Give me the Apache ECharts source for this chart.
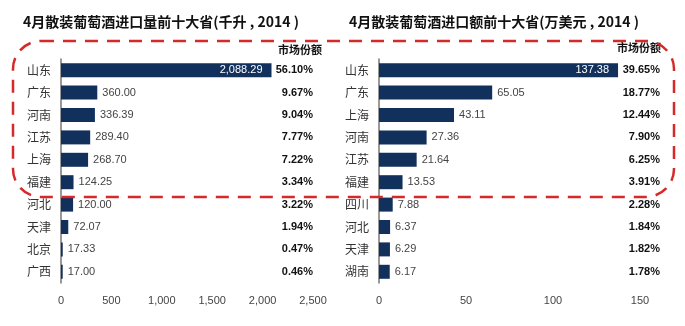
<!DOCTYPE html>
<html><head><meta charset="utf-8">
<script src="https://cdn.jsdelivr.net/npm/echarts@6/dist/echarts.min.js"></script>
<style>html,body{margin:0;padding:0;background:#fff}#c{width:685px;height:326px}</style>
</head><body><div id="c"></div>
<script>
const leftCats = ['山东','广东','河南','江苏','上海','福建','河北','天津','北京','广西'];
const leftVals = [2088.29,360.00,336.39,289.40,268.70,124.25,120.00,72.07,17.33,17.00];
const leftShares = ['56.10%','9.67%','9.04%','7.77%','7.22%','3.34%','3.22%','1.94%','0.47%','0.46%'];
const rightCats = ['山东','广东','上海','河南','江苏','福建','四川','河北','天津','湖南'];
const rightVals = [137.38,65.05,43.11,27.36,21.64,13.53,7.88,6.37,6.29,6.17];
const rightShares = ['39.65%','18.77%','12.44%','7.90%','6.25%','3.91%','2.28%','1.84%','1.82%','1.78%'];
const leftTitle = '4月散装葡萄酒进口量前十大省(千升 , 2014 )';
const rightTitle = '4月散装葡萄酒进口额前十大省(万美元 , 2014 )';
const shareHeader = '市场份额';

const font = "'Liberation Sans', 'Noto Sans CJK SC', sans-serif";
const barColor = '#11305c';
function mkLabel(vals){
  return vals.map((v,i)=>({
    value: v,
    label: i===0 ? {show:true, position:'insideRight', color:'#fff', offset:[-4,0]} : {show:true, position:'right', color:'#444'}
  }));
}
const fmtNum = v => v.toLocaleString('en-US',{minimumFractionDigits:2, maximumFractionDigits:2});
const chart = echarts.init(document.getElementById('c'));
const catAxis = (gi, cats) => ({
  type:'category', gridIndex:gi, data:cats, inverse:true,
  axisLine:{show:true, lineStyle:{color:'#777', width:1.5}}, axisTick:{show:false},
  axisLabel:{color:'#333', fontSize:12, margin:10, fontFamily:"'Noto Sans CJK SC', sans-serif"}
});
const shareAxis = (gi, shares, off) => ({
  type:'category', gridIndex:gi, data:shares, inverse:true, position:'right', offset:off,
  axisLine:{show:false}, axisTick:{show:false}, splitLine:{show:false},
  axisLabel:{inside:true, margin:0, color:'#111', fontWeight:'bold', fontSize:11, fontFamily:font}
});
const valAxis = (gi, max, interval) => ({
  type:'value', gridIndex:gi, min:0, max:max, interval:interval,
  axisLine:{show:false}, axisTick:{show:false}, splitLine:{show:false},
  axisLabel:{color:'#444', fontSize:11, margin:12, fontFamily:font, formatter:v=>v.toLocaleString('en-US')}
});
chart.setOption({
  animation:false,
  title:[
    {text:leftTitle, left:18, top:10, textStyle:{fontSize:14, fontWeight:'bold', color:'#111', fontFamily:"'Noto Sans CJK SC', sans-serif"}},
    {text:rightTitle, left:344, top:10, textStyle:{fontSize:14, fontWeight:'bold', color:'#111', fontFamily:"'Noto Sans CJK SC', sans-serif"}}
  ],
  grid:[
    {left:61, right:372, top:59, bottom:43},
    {left:379, right:45, top:59, bottom:43}
  ],
  xAxis:[valAxis(0,2500,500), valAxis(1,150,50)],
  yAxis:[catAxis(0,leftCats), shareAxis(0,leftShares,0), catAxis(1,rightCats), shareAxis(1,rightShares,20)],
  series:[
    {type:'bar', xAxisIndex:0, yAxisIndex:0, data:mkLabel(leftVals), barWidth:14, itemStyle:{color:barColor},
     label:{fontSize:11, fontFamily:font, formatter:p=>fmtNum(p.value)}},
    {type:'bar', xAxisIndex:1, yAxisIndex:2, data:mkLabel(rightVals), barWidth:14, itemStyle:{color:barColor},
     label:{fontSize:11, fontFamily:font, formatter:p=>fmtNum(p.value)}}
  ],
  graphic:[
    {type:'text', left:278, top:44, style:{text:shareHeader, font:"bold 11px 'Noto Sans CJK SC'", fill:'#111'}},
    {type:'text', left:617, top:42, style:{text:shareHeader, font:"bold 11px 'Noto Sans CJK SC'", fill:'#111'}},
    {type:'rect', shape:{x:13, y:41, width:661, height:156, r:28}, style:{fill:'none', stroke:'#d42a2a', lineWidth:2.5, lineDash:[13,9]}, z:10}
  ]
});
</script></body></html>
